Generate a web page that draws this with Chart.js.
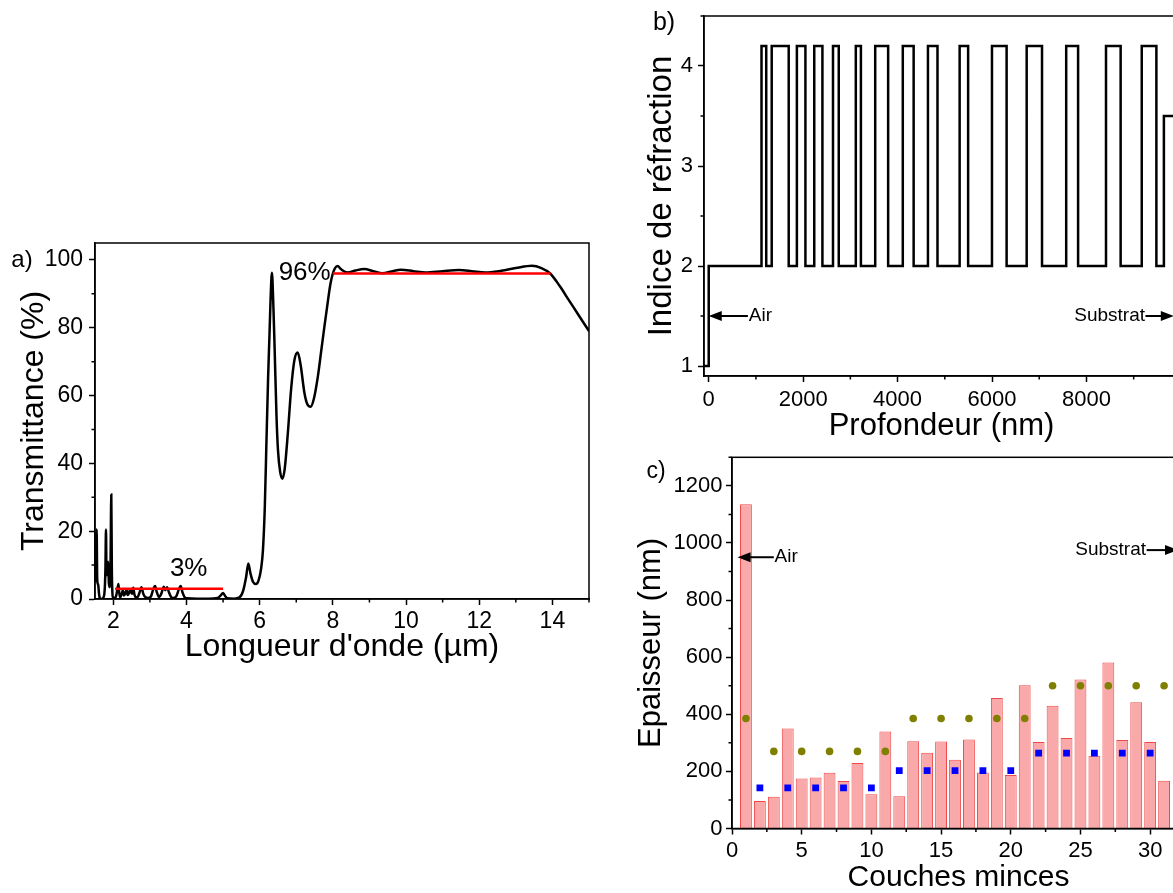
<!DOCTYPE html>
<html>
<head>
<meta charset="utf-8">
<script src="https://cdn.jsdelivr.net/npm/chart.js@4.4.1/dist/chart.umd.min.js"></script>
<style>
  html, body { margin: 0; padding: 0; width: 1173px; height: 893px; overflow: hidden; background: #fff; }
  canvas { position: absolute; }
  #chartA { left: 0; top: 200px; }
  #chartB { left: 630px; top: 0; }
  #chartC { left: 630px; top: 440px; }
</style>
</head>
<body>
<canvas id="chartA" width="620" height="480"></canvas>
<canvas id="chartB" width="600" height="450"></canvas>
<canvas id="chartC" width="600" height="453"></canvas>
<script>
// a) transmittance spectrum
const wavelength = [
  1.50, 1.525, 1.545, 1.56, 1.575, 1.59, 1.61, 1.63, 1.67, 1.72, 1.76, 1.785, 1.80, 1.815, 1.835, 1.86,
  1.88, 1.905, 1.925, 1.945, 1.96, 1.975, 1.99, 2.03, 2.08, 2.12, 2.14, 2.16, 2.19, 2.23, 2.26, 2.29,
  2.33, 2.36, 2.39, 2.42, 2.46, 2.51, 2.545, 2.58, 2.62, 2.66, 2.72, 2.77, 2.82, 2.88, 2.95, 3.03,
  3.09, 3.14, 3.19, 3.25, 3.31, 3.38, 3.42, 3.47, 3.52, 3.58, 3.64, 3.72, 3.79, 3.84, 3.89, 3.95,
  4.02, 4.3, 4.6, 4.85, 4.93, 5.0, 5.06, 5.12, 5.3, 5.45, 5.55, 5.63, 5.69, 5.75, 5.82, 5.90,
  5.97, 6.04, 6.09, 6.14, 6.18, 6.23, 6.27, 6.30, 6.335, 6.37, 6.41, 6.46, 6.50, 6.56, 6.62, 6.68,
  6.77, 6.86, 6.95, 7.04, 7.12, 7.22, 7.30, 7.39, 7.48, 7.59, 7.68, 7.77, 7.86, 7.93, 8.0, 8.06,
  8.13, 8.22, 8.40, 8.62, 8.86, 9.10, 9.36, 9.60, 9.86, 10.2, 10.54, 11.0, 11.45, 11.8, 12.17, 12.6,
  13.0, 13.44, 13.7, 13.94, 14.2, 14.44, 14.7, 15.0
];
const transmittance = [
  5, 12, 20.5, 6, 4.5, 4, 1.5, 0.3, 0, 0.3, 2, 9, 20.5, 7, 8, 11,
  4.5, 3.5, 11, 30.8, 9, 2, 0.5, 0.3, 1, 3.5, 4.4, 2, 0.5, 1.5, 2.6, 1,
  1.8, 2.7, 1.2, 1.5, 2.8, 1.5, 3.3, 1.2, 0.5, 0.5, 2, 3.5, 1.5, 0.5, 0.3, 0.8,
  2.8, 3.8, 2, 0.6, 1.5, 3.6, 2.6, 3.5, 2, 0.6, 0.3, 0.8, 2.8, 3.8, 2, 0.5,
  0.2, 0.1, 0.1, 0.3, 1, 1.8, 0.8, 0.2, 0.1, 0.5, 2.5, 6.5, 10.5, 7.5, 5, 4.4,
  5.5, 9, 14.5, 27, 44, 65, 78.5, 89, 96.2, 88, 73.5, 54, 44, 37.5, 35.5, 38,
  48.9, 62, 70.5, 72.7, 69, 61, 57.5, 56.7, 59, 65.6, 73, 80.4, 87.5, 92.7, 96, 97.6,
  98.2, 97.3, 96.3, 96.9, 97.3, 96.7, 96.1, 96.6, 97.1, 96.7, 96.3, 96.7, 97.0, 96.7, 96.3, 96.8,
  97.6, 98.3, 97.6, 96, 92.3, 88.3, 84, 79
];
const stopBandX = [2.05, 5.0];
const stopBandY = [3, 3];
const passBandX = [8.0, 13.95];
const passBandY = [96, 96];

// b) refractive index profile (value holds from each depth to the next)
const depth = [
  -100, 0, 1118, 1218, 1334, 1694, 1867, 2048, 2235, 2408, 2632, 2754, 3115, 3223, 3526, 3800, 4110,
  4340, 4643, 4845, 5314, 5494, 5999, 6309, 6734, 7059, 7571, 7823, 8414, 8724, 9171, 9481, 9640, 9960
];
const refIndex = [
  1, 2, 4.2, 2, 4.2, 2, 4.2, 2, 4.2, 2, 4.2, 2, 4.2, 2, 4.2, 2, 4.2,
  2, 4.2, 2, 4.2, 2, 4.2, 2, 4.2, 2, 4.2, 2, 4.2, 2, 4.2, 2, 3.5, 3.5
];

// c) layer thicknesses
const layers = [1, 2, 3, 4, 5, 6, 7, 8, 9, 10, 11, 12, 13, 14, 15, 16, 17, 18, 19, 20, 21, 22, 23, 24, 25, 26, 27, 28, 29, 30, 31];
const thickness = [1136, 96, 111, 350, 175, 179, 195, 166, 229, 120, 340, 113, 306, 265, 305, 241,
  312, 196, 457, 187, 502, 303, 430, 317, 522, 255, 581, 310, 442, 303, 167];
const lowLayers = [1, 3, 5, 7, 9, 11, 13, 15, 17, 19, 21, 23, 25, 27, 29, 31];
const lowTarget = [385, 270, 270, 270, 270, 270, 385, 385, 385, 385, 385, 500, 500, 500, 500, 500];
const highLayers = [2, 4, 6, 8, 10, 12, 14, 16, 18, 20, 22, 24, 26, 28, 30];
const highTarget = [142, 142, 142, 142, 142, 203, 203, 203, 203, 203, 264, 264, 264, 264, 264];

const FONT = "'Liberation Sans', Arial, sans-serif";
Chart.defaults.font.family = FONT;
Chart.defaults.color = "#000";
Chart.defaults.animation = false;

function pts(xs, ys) {
  return xs.map((x, i) => ({ x: x, y: ys[i] }));
}

function axis(o) {
  return {
    type: "linear",
    min: o.min,
    max: o.max,
    offset: false,
    afterFit: (s) => {
      if (s.isHorizontal()) s.height = o.size;
      else s.width = o.size;
    },
    // major ticks on round multiples of the step only
    afterBuildTicks: (s) => {
      const t = [];
      for (let v = Math.ceil(o.min / o.step - 1e-9) * o.step; v <= o.max + 1e-9; v += o.step) {
        t.push({ value: Math.round(v * 1e6) / 1e6 });
      }
      s.ticks = t;
    },
    ticks: {
      stepSize: o.step,
      autoSkip: false,
      maxRotation: 0,
      padding: o.tickPad,
      font: { size: o.tickSize, lineHeight: 1 },
      callback: (v) => String(v),
    },
    grid: { drawOnChartArea: false, offset: false, tickLength: 6, tickWidth: 1.5, tickColor: "#000" },
    border: { display: true, color: "#000", width: 1.5 },
    title: {
      display: true,
      text: o.title,
      font: { size: o.titleSize, lineHeight: 1 },
      padding: { top: o.titlePad, bottom: o.titlePad },
    },
  };
}

// frame, minor ticks, labels and arrows
const extras = {
  id: "extras",
  afterDraw(chart, args, o) {
    const ctx = chart.ctx;
    const a = chart.chartArea;
    const xs = chart.scales.x;
    const ys = chart.scales.y;
    ctx.save();
    ctx.strokeStyle = "#000";
    ctx.fillStyle = "#000";
    ctx.lineWidth = 1.5;
    ctx.strokeRect(a.left, a.top, a.right - a.left, a.bottom - a.top);

    ctx.beginPath();
    const minor = (s, step, major, draw) => {
      for (let v = Math.ceil(s.min / step) * step; v <= s.max + 1e-9; v += step) {
        const r = v / major;
        if (Math.abs(r - Math.round(r)) < 1e-6) continue;
        draw(s.getPixelForValue(v));
      }
    };
    minor(xs, o.minorX, xs.options.ticks.stepSize, (p) => {
      ctx.moveTo(p, a.bottom);
      ctx.lineTo(p, a.bottom + 3.5);
    });
    minor(ys, o.minorY, ys.options.ticks.stepSize, (p) => {
      ctx.moveTo(a.left, p);
      ctx.lineTo(a.left - 3.5, p);
    });
    ctx.stroke();

    (o.arrows || []).forEach((ar) => {
      const p1 = xs.getPixelForValue(ar.from);
      const p2 = xs.getPixelForValue(ar.to);
      const py = ys.getPixelForValue(ar.y);
      const dir = Math.sign(p2 - p1);
      ctx.lineWidth = 2;
      ctx.beginPath();
      ctx.moveTo(p1, py);
      ctx.lineTo(p2 - dir * 12, py);
      ctx.stroke();
      ctx.beginPath();
      ctx.moveTo(p2, py);
      ctx.lineTo(p2 - dir * 13, py - 5);
      ctx.lineTo(p2 - dir * 13, py + 5);
      ctx.closePath();
      ctx.fill();
    });

    (o.notes || []).forEach((n) => {
      ctx.font = n.size + "px " + FONT;
      ctx.textAlign = n.align || "center";
      ctx.textBaseline = "middle";
      const px = n.pixel ? n.x : xs.getPixelForValue(n.x);
      const py = n.pixel ? n.y : ys.getPixelForValue(n.y);
      ctx.fillText(n.text, px, py);
    });
    ctx.restore();
  },
};

// panel a
new Chart(document.getElementById("chartA"), {
  type: "line",
  data: {
    datasets: [
      { data: pts(stopBandX, stopBandY), borderColor: "#ff0000", borderWidth: 2.5, pointRadius: 0, order: 0 },
      { data: pts(passBandX, passBandY), borderColor: "#ff0000", borderWidth: 2.5, pointRadius: 0, order: 0 },
      {
        data: pts(wavelength, transmittance),
        borderColor: "#000",
        borderWidth: 2.5,
        pointRadius: 0,
        cubicInterpolationMode: "monotone",
        order: 1,
      },
    ],
  },
  options: {
    responsive: false,
    layout: { padding: { top: 43, right: 31, bottom: 0, left: 0 } },
    plugins: {
      legend: { display: false },
      tooltip: { enabled: false },
      extras: {
        minorX: 1,
        minorY: 10,
        notes: [
          { text: "a)", x: 22, y: 60, size: 24, pixel: true },
          { text: "3%", x: 4.06, y: 8.9, size: 26 },
          { text: "96%", x: 7.23, y: 96.3, size: 26 },
        ],
      },
    },
    scales: {
      x: axis({ min: 1.5, max: 15, step: 2, size: 81, tickPad: 5, tickSize: 23,
        title: "Longueur d'onde (µm)", titleSize: 32, titlePad: 17 }),
      y: axis({ min: 0, max: 105, step: 20, size: 95, tickPad: 6, tickSize: 23,
        title: "Transmittance (%)", titleSize: 32, titlePad: 18 }),
    },
  },
  plugins: [extras],
});

// panel b
new Chart(document.getElementById("chartB"), {
  type: "line",
  data: {
    datasets: [
      { data: pts(depth, refIndex), borderColor: "#000", borderWidth: 2.5, pointRadius: 0, stepped: true },
    ],
  },
  options: {
    responsive: false,
    layout: { padding: { top: 12, right: 51, bottom: 0, left: 0 } },
    plugins: {
      legend: { display: false },
      tooltip: { enabled: false },
      extras: {
        minorX: 1000,
        minorY: 0.5,
        arrows: [
          { from: 830, to: 0, y: 1.5 },
          { from: 9250, to: 9850, y: 1.5 },
        ],
        notes: [
          { text: "b)", x: 34, y: 23, size: 25, pixel: true },
          { text: "Air", x: 850, y: 1.5, size: 19, align: "left" },
          { text: "Substrat", x: 9240, y: 1.5, size: 19, align: "right" },
        ],
      },
    },
    scales: {
      x: axis({ min: -100, max: 9960, step: 2000, size: 74, tickPad: 7, tickSize: 22,
        title: "Profondeur (nm)", titleSize: 31, titlePad: 8 }),
      y: axis({ min: 0.9, max: 4.5, step: 1, size: 74, tickPad: 5, tickSize: 22,
        title: "Indice de réfraction", titleSize: 33, titlePad: 15 }),
    },
  },
  plugins: [extras],
});

// panel c
new Chart(document.getElementById("chartC"), {
  type: "bar",
  data: {
    datasets: [
      {
        data: pts(layers, thickness),
        backgroundColor: "#f9a9a9",
        borderColor: "#f04848",
        borderWidth: 1,
        barPercentage: 0.85,
        categoryPercentage: 1,
        order: 2,
      },
      {
        type: "line",
        data: pts(lowLayers, lowTarget),
        showLine: false,
        pointStyle: "circle",
        pointRadius: 3.8,
        pointBorderWidth: 0,
        pointBackgroundColor: "#808000",
        order: 1,
      },
      {
        type: "line",
        data: pts(highLayers, highTarget),
        showLine: false,
        pointStyle: "rect",
        pointRadius: 4.8,
        pointBorderWidth: 0,
        pointBackgroundColor: "#0000ff",
        order: 1,
      },
    ],
  },
  options: {
    responsive: false,
    layout: { padding: { top: 17.3, right: 45, bottom: 0, left: 0 } },
    plugins: {
      legend: { display: false },
      tooltip: { enabled: false },
      extras: {
        minorX: 2.5,
        minorY: 100,
        arrows: [
          { from: 3.0, to: 0.4, y: 950 },
          { from: 29.75, to: 32.0, y: 975 },
        ],
        notes: [
          { text: "c)", x: 26, y: 32, size: 23, pixel: true },
          { text: "Air", x: 3.05, y: 950, size: 19, align: "left" },
          { text: "Substrat", x: 29.7, y: 975, size: 19, align: "right" },
        ],
      },
    },
    scales: {
      x: axis({ min: 0, max: 32.5, step: 5, size: 64.5, tickPad: 5, tickSize: 22,
        title: "Couches minces", titleSize: 30, titlePad: 0 }),
      y: axis({ min: 0, max: 1300, step: 200, size: 102, tickPad: 3.5, tickSize: 22,
        title: "Epaisseur (nm)", titleSize: 31, titlePad: 6 }),
    },
  },
  plugins: [extras],
});
</script>
</body>
</html>
